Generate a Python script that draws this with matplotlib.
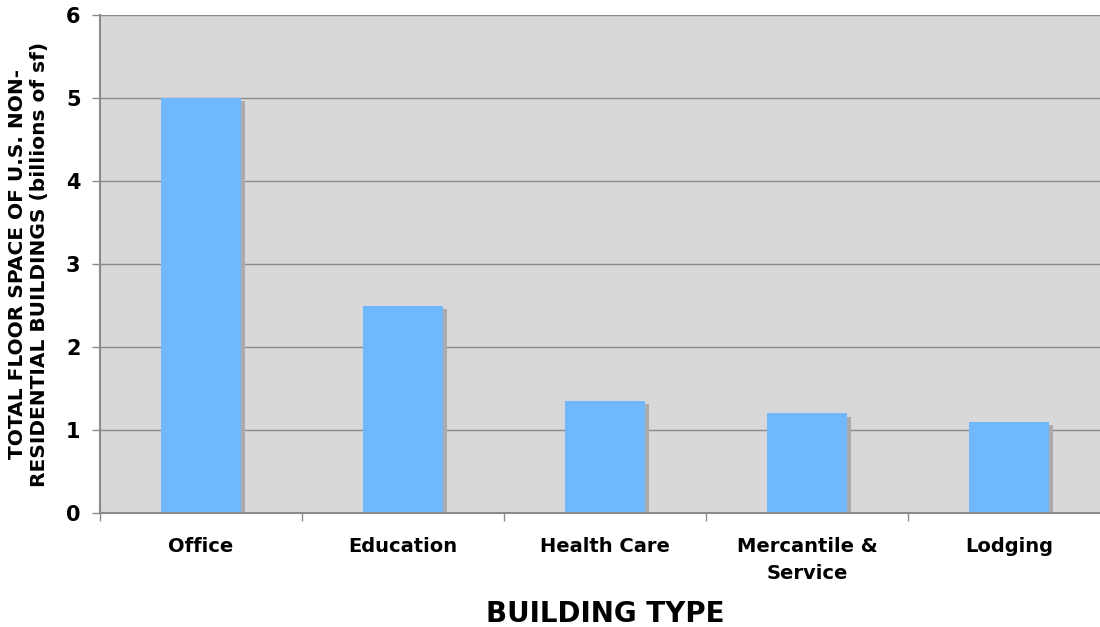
import numpy as np
import matplotlib.pyplot as plt

# floor space by building type (billions of sf)
building_types = ["Office", "Education", "Health Care", "Mercantile &\nService", "Lodging"]
floor_space = [5.0, 2.5, 1.35, 1.2, 1.1]
y_ticks = [0, 1, 2, 3, 4, 5, 6]

bar_color = "#70b8fd"
shadow_color = "#ababab"
bg_color = "#d8d8d8"
grid_color = "#8a8a8a"

plt.rcParams["font.family"] = "DejaVu Sans"
plt.rcParams["font.weight"] = "bold"

fig = plt.figure(figsize=(11, 6.27), dpi=100)
# the plot area runs a little past the right edge of the figure
ax = fig.add_axes([100 / 1100, (627 - 513) / 627, 1010 / 1100, 498 / 627])
ax.set_facecolor(bg_color)

x = np.arange(len(building_types))
width = 0.4

# drop shadow behind each bar
dx, dy = 0.016, -0.04
ax.bar(x + dx, np.array(floor_space) + dy, width=width, color=shadow_color, zorder=2)
ax.bar(x, floor_space, width=width, color=bar_color, zorder=3)

ax.set_xlim(-0.5, len(building_types) - 0.5)
ax.set_ylim(0, 6)
ax.set_yticks(y_ticks)
ax.set_yticklabels([str(t) for t in y_ticks], fontsize=15, fontweight="bold")
ax.yaxis.grid(True, color=grid_color, linewidth=1.0, zorder=1)
ax.set_axisbelow(True)

# category labels in the middle, tick marks on the boundaries
ax.set_xticks(np.arange(-0.5, len(building_types), 1.0))
ax.set_xticklabels([])
ax.set_xticks(x, minor=True)
ax.set_xticklabels(building_types, minor=True, fontsize=14, fontweight="bold",
                   linespacing=1.55, va="top")
ax.tick_params(axis="x", which="minor", length=0, pad=17)
ax.tick_params(axis="x", which="major", length=6, color=grid_color, width=1)
ax.tick_params(axis="y", length=6, color=grid_color, width=1, pad=8)

for side in ["top", "right"]:
    ax.spines[side].set_visible(False)
for side in ["left", "bottom"]:
    ax.spines[side].set_color(grid_color)
    ax.spines[side].set_linewidth(1.5)
ax.spines["bottom"].set_zorder(4)

ax.set_xlabel("BUILDING TYPE", fontsize=20, fontweight="bold", labelpad=12)
ax.set_ylabel("TOTAL FLOOR SPACE OF U.S. NON-\nRESIDENTIAL BUILDINGS (billions of sf)",
              fontsize=14.5, fontweight="bold", labelpad=12, linespacing=1.25)

fig.savefig("out.png", dpi=100)
